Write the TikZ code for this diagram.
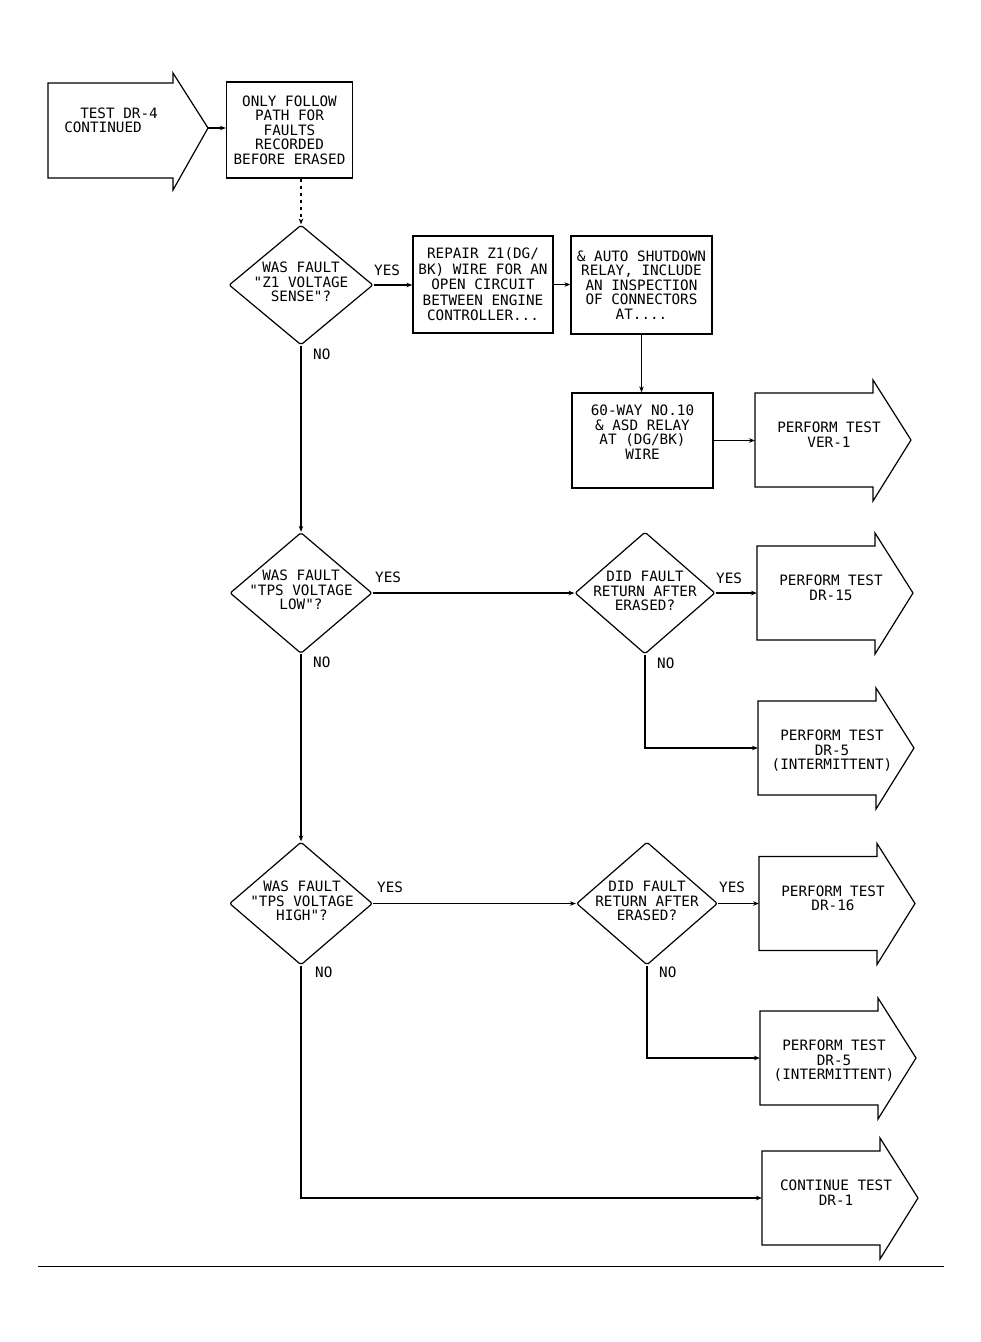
\documentclass[tikz,border=0pt]{standalone}
\usepackage{fontspec}
\newfontfamily\plotfont{DejaVu Sans Mono}
\usetikzlibrary{arrows.meta,shapes.geometric}
\tikzset{
  shp/.style={draw, line width=1.2pt, line join=miter},
  fcfont/.style={font=\plotfont\fontsize{14.3}{14.5}\selectfont},
  box/.style={shp, rectangle, inner sep=0pt, align=center, fcfont},
  dec/.style={shp, diamond, inner sep=0pt, rounded corners=2pt},
  txt/.style={inner sep=0pt, align=center, fcfont},
  lbl/.style={inner sep=0pt, anchor=west, fcfont},
  conn/.style={line width=1.3pt, -{Stealth[length=6pt,width=4.5pt]}},
}
% #1 name, #2 left x, #3 centre y, #4 text
\newcommand{\fcArrow}[4]{%
  \draw[shp] (#2,#3-47) -- (#2+118,#3-47) -- (#2+118,#3-60) -- (#2+156,#3)
    -- (#2+118,#3+61) -- (#2+118,#3+47) -- (#2,#3+47) -- cycle;
  \coordinate (#1) at (#2,#3);
  \node[txt, anchor=north] (#1t) at (#2+74,#3-18) {#4};%
}
\begin{document}
\begin{tikzpicture}[x=1pt,y=-1pt]
\useasboundingbox (0,0) rectangle (981,1342);

% start arrow
\draw[shp] (48,83) -- (173,83) -- (173,73) -- (208,128) -- (173,190) -- (173,178) -- (48,178) -- cycle;
\coordinate (s0) at (208,128);
\node[txt] (st1) at (119,113) {TEST DR-4};
\node[txt] (st2) at (103,127) {CONTINUED};

% boxes
\node[box, minimum width=126pt, minimum height=96pt] (only) at (289.5,130)
  {ONLY FOLLOW\\PATH FOR\\FAULTS\\RECORDED\\BEFORE ERASED};
\node[box, minimum width=140pt, minimum height=97pt, font=\plotfont\fontsize{14.3}{15.5}\selectfont] (repair) at (483,284.5)
  {REPAIR Z1(DG/\\BK) WIRE FOR AN\\OPEN CIRCUIT\\BETWEEN ENGINE\\CONTROLLER...};
\node[box, minimum width=141pt, minimum height=98pt] (box2) at (641.5,285)
  {\& AUTO SHUTDOWN\\RELAY, INCLUDE\\AN INSPECTION\\OF CONNECTORS\\AT....};
\node[box, minimum width=141pt, minimum height=95pt] (box3) at (642.5,440.5) {};
\node[txt] (box3t) at (642.5,432) {60-WAY NO.10\\\& ASD RELAY\\AT (DG/BK)\\WIRE};

% decisions
\node[dec, minimum width=144pt, minimum height=120pt] (d1) at (301,285) {};
\node[txt] (d1t) at (301,282) {WAS FAULT\\"Z1 VOLTAGE\\SENSE"?};
\node[dec, minimum width=142pt, minimum height=121pt] (d2) at (301,593) {};
\node[txt] (d2t) at (301,590) {WAS FAULT\\"TPS VOLTAGE\\LOW"?};
\node[dec, minimum width=140pt, minimum height=122pt] (d3) at (645,593) {};
\node[txt] (d3t) at (645,591) {DID FAULT\\RETURN AFTER\\ERASED?};
\node[dec, minimum width=143pt, minimum height=123pt] (d4) at (301,903.5) {};
\node[txt] (d4t) at (302,901) {WAS FAULT\\"TPS VOLTAGE\\HIGH"?};
\node[dec, minimum width=141pt, minimum height=123pt] (d5) at (647,903.5) {};
\node[txt] (d5t) at (647,901) {DID FAULT\\RETURN AFTER\\ERASED?};

% terminal arrows
\fcArrow{a1}{755}{440}{PERFORM TEST\\VER-1}
\fcArrow{a2}{757}{593}{PERFORM TEST\\DR-15}
\fcArrow{a3}{758}{748}{PERFORM TEST\\DR-5\\(INTERMITTENT)}
\fcArrow{a4}{759}{903.5}{PERFORM TEST\\DR-16}
\fcArrow{a5}{760}{1058}{PERFORM TEST\\DR-5\\(INTERMITTENT)}
\fcArrow{a6}{762}{1198}{CONTINUE TEST\\DR-1}

% connectors
\draw[conn] (s0) -- (s0 -| only.west);
\draw[conn, dash pattern=on 3pt off 4pt] (only.south -| d1.north) -- (d1.north);
\draw[conn] (d1.east) -- (d1.east -| repair.west);
\draw[conn] (repair.east) -- (repair.east -| box2.west);
\draw[conn] (box2.south) -- (box2.south |- box3.north);
\draw[conn] (box3.east) -- (box3.east -| a1);
\draw[conn] (d1.south) -- (d2.north);
\draw[conn] (d2.east) -- (d3.west);
\draw[conn] (d3.east) -- (a2);
\draw[conn] (d3.south) |- (a3);
\draw[conn] (d2.south) -- (d4.north);
\draw[conn] (d4.east) -- (d5.west);
\draw[conn] (d5.east) -- (a4);
\draw[conn] (d5.south) |- (a5);
\draw[conn] (d4.south) |- (a6);

% branch labels
\node[lbl] (y1) at (374,270) {YES};
\node[lbl] (n1) at (313,354) {NO};
\node[lbl] (y2) at (375,577) {YES};
\node[lbl] (n2) at (313,662) {NO};
\node[lbl] (y3) at (716,578) {YES};
\node[lbl] (n3) at (657,663) {NO};
\node[lbl] (y4) at (377,887) {YES};
\node[lbl] (n4) at (315,972) {NO};
\node[lbl] (y5) at (719,887) {YES};
\node[lbl] (n5) at (659,972) {NO};

% bottom rule
\coordinate (r0) at (38,1266);
\coordinate (r1) at (944,1266);
\draw[line width=1pt] (r0) -- (r1);
\end{tikzpicture}
\end{document}
